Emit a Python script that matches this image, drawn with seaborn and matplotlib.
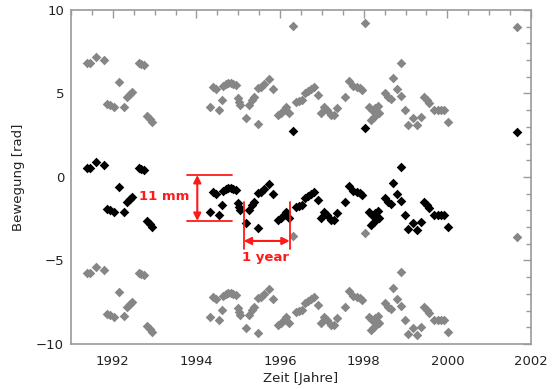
import numpy as np
import pandas as pd
import seaborn as sns
import matplotlib
matplotlib.use("Agg")
import matplotlib.pyplot as plt
from matplotlib.ticker import MultipleLocator

years = [
    1991.38, 1991.45, 1991.60, 1991.79, 1991.86, 1991.94, 1992.02, 1992.15,
    1992.26, 1992.33, 1992.40, 1992.47, 1992.63, 1992.68, 1992.74, 1992.82,
    1992.88, 1992.93,
    1994.33, 1994.40, 1994.47, 1994.53, 1994.61, 1994.64, 1994.70, 1994.76,
    1994.82, 1994.88, 1994.94, 1994.99, 1995.02, 1995.05, 1995.18, 1995.26,
    1995.33, 1995.38, 1995.46, 1995.48, 1995.54, 1995.62, 1995.74, 1995.83,
    1995.94, 1996.02, 1996.10, 1996.14, 1996.21, 1996.31, 1996.38, 1996.45,
    1996.52, 1996.60, 1996.67, 1996.75, 1996.82, 1996.90, 1996.99, 1997.05,
    1997.13, 1997.21, 1997.29, 1997.36, 1997.55, 1997.64, 1997.74, 1997.83,
    1997.90, 1997.96, 1998.04, 1998.12, 1998.18, 1998.20, 1998.24, 1998.28,
    1998.34, 1998.36, 1998.50, 1998.58, 1998.64, 1998.70, 1998.80, 1998.88,
    1998.90, 1998.99, 1999.07, 1999.17, 1999.28, 1999.37, 1999.45, 1999.52,
    1999.57, 1999.67, 1999.77, 1999.85, 1999.93, 2000.02,
    2001.66,
]
phase = [
    0.52, 0.55, 0.92, 0.72, -1.90, -1.98, -2.10, -0.58,
    -2.07, -1.48, -1.34, -1.22, 0.52, 0.50, 0.42, -2.62,
    -2.80, -2.97,
    -2.08, -0.88, -1.00, -2.28, -1.68, -0.85, -0.72, -0.65,
    -0.66, -0.72, -0.80, -1.58, -1.78, -1.98, -2.73, -1.98,
    -1.68, -1.48, -3.08, -0.98, -0.88, -0.74, -0.42, -1.04,
    -2.57, -2.47, -2.30, -2.08, -2.47, 2.77, -1.80, -1.76,
    -1.70, -1.28, -1.16, -1.02, -0.88, -1.38, -2.47, -2.08,
    -2.28, -2.57, -2.57, -2.14, -1.48, -0.56, -0.85, -0.92,
    -0.98, -1.08, 2.93, -2.08, -2.85, -2.28, -2.67, -2.18,
    -2.02, -2.47, -1.28, -1.48, -1.62, -0.36, -1.00, -1.42,
    0.57, -2.30, -3.14, -2.74, -3.17, -2.67, -1.48, -1.68,
    -1.88, -2.28, -2.28, -2.28, -2.28, -2.97,
    2.71,
]

# phase ambiguity: the grey copies sit one full cycle above / below
WRAP = 2 * np.pi

df = pd.DataFrame({"t": years, "phase": phase})
df_up = df.assign(phase=df["phase"] + WRAP)
df_dn = df.assign(phase=df["phase"] - WRAP)

sns.set_theme(style="white")
plt.rcParams["font.family"] = ["DejaVu Sans"]

fig = plt.figure(figsize=(5.52, 3.89), dpi=100)
ax = fig.add_axes([0.1286, 0.1157, 0.8334, 0.8586])

grey = "#868686"
for d, c in [(df_up, grey), (df_dn, grey), (df, "black")]:
    sns.scatterplot(data=d, x="t", y="phase", ax=ax, marker="D", s=24,
                    color=c, linewidth=0, legend=False)

ax.set_xlim(1991, 2002)
ax.set_ylim(-10, 10)
ax.xaxis.set_major_locator(MultipleLocator(2))
ax.xaxis.set_minor_locator(MultipleLocator(0.5))
ax.yaxis.set_major_locator(MultipleLocator(5))
ax.yaxis.set_minor_locator(MultipleLocator(1))
ax.set_yticks([-10, -5, 0, 5, 10])
ax.set_yticklabels(["\u221210", "\u22125", "0", "5", "10"])

frame = "#9a9a9a"
for sp in ax.spines.values():
    sp.set_color(frame)
    sp.set_linewidth(1.2)
ax.tick_params(which="both", direction="in", top=True, right=True,
               color=frame, labelsize=9.5, labelcolor="#222222")
ax.tick_params(which="major", length=6, width=1.0)
ax.tick_params(which="minor", length=3.5, width=1.0)
ax.tick_params(axis="x", pad=8)
ax.tick_params(axis="y", pad=5)

ax.set_xlabel("Zeit [Jahre]", fontsize=9.5, color="#222222", labelpad=3)
ax.set_ylabel("Bewegung [rad]", fontsize=9.5, color="#222222", labelpad=8)

# red annotations
red = "#ff1a1a"
arrow = dict(arrowstyle="<|-|>", color=red, lw=1.5, mutation_scale=11,
             shrinkA=0, shrinkB=0)
mm_top, mm_bot, mm_x = 0.12, -2.63, 1994.02
ax.plot([1993.78, 1994.84], [mm_top, mm_top], color=red, lw=1.3)
ax.plot([1993.78, 1994.84], [mm_bot, mm_bot], color=red, lw=1.3)
ax.annotate("", xy=(mm_x, mm_top), xytext=(mm_x, mm_bot), arrowprops=arrow)
ax.text(1993.24, -1.14, "11 mm", color=red, fontsize=9.5, fontweight="bold",
        ha="center", va="center")

yr_l, yr_r = 1995.13, 1996.23
ax.plot([yr_l, yr_l], [-1.48, -4.33], color=red, lw=1.3)
ax.plot([yr_r, yr_r], [-1.48, -4.33], color=red, lw=1.3)
ax.annotate("", xy=(yr_l, -3.83), xytext=(yr_r, -3.83), arrowprops=arrow)
ax.text(1995.66, -4.8, "1 year", color=red, fontsize=9.5, fontweight="bold",
        ha="center", va="center")

fig.savefig("out.png", dpi=100, facecolor="white")
